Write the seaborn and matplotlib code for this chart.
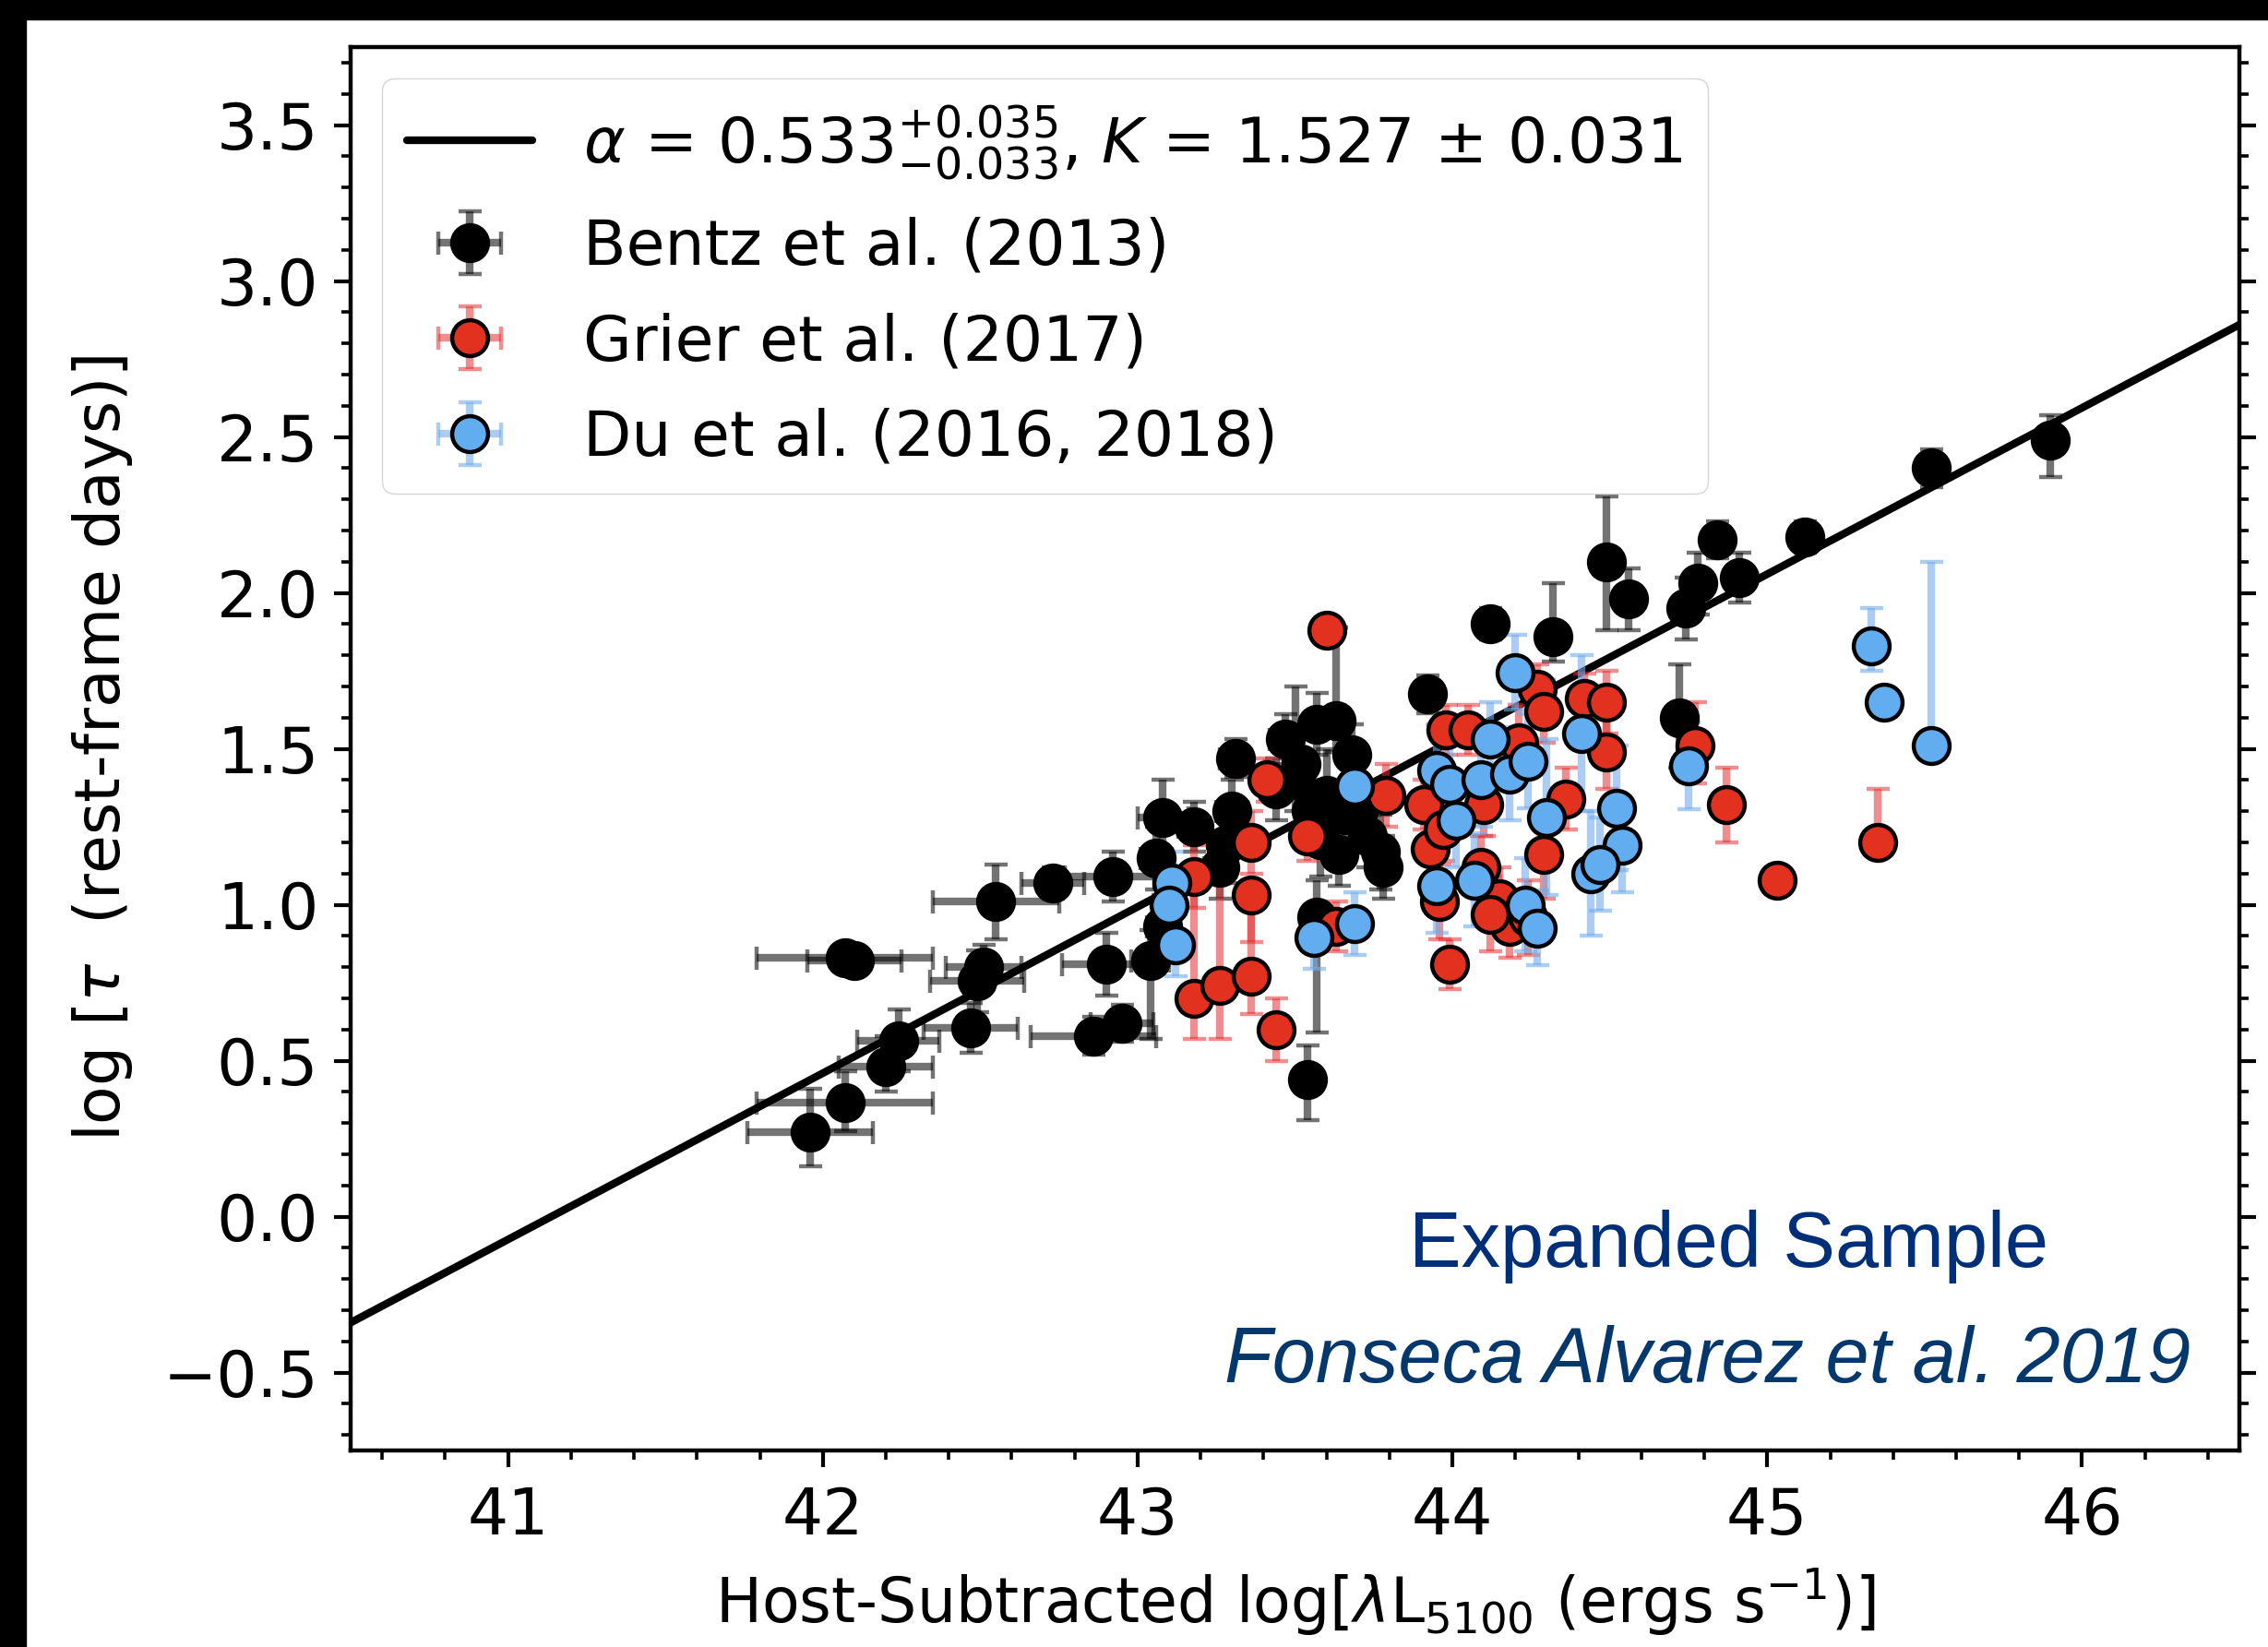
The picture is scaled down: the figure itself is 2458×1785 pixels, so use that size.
import numpy as np
import matplotlib
matplotlib.use("Agg")
import matplotlib.pyplot as plt
from matplotlib.patches import Rectangle
from matplotlib.ticker import MultipleLocator
import seaborn as sns

# fit line (at the axis edges)
fit_x = [40.5, 46.5]
fit_y = [-0.34, 2.86]
fit_label = r"$\alpha$ = 0.533$^{+0.035}_{-0.033}$, $K$ = 1.527 $\pm$ 0.031"

# Bentz et al. (2013)
bentz_x = [41.96, 42.07, 42.20, 42.24, 42.07, 42.10, 42.47, 42.49, 42.51, 42.55,
           42.73, 42.86, 42.95, 42.90, 42.92, 43.04, 43.06, 43.08, 43.18, 43.26,
           43.28, 43.30, 43.31, 43.44, 43.47, 43.50, 43.57, 43.63, 43.58, 43.66,
           43.73, 43.77, 43.78, 43.60, 43.52, 43.68, 43.57, 43.54, 43.92, 44.12,
           44.32, 44.49, 44.56, 44.72, 44.74, 44.78, 44.84, 44.91, 45.12, 45.52,
           45.90, 43.64, 43.70, 43.55, 43.08]
bentz_y = [0.27, 0.365, 0.48, 0.565, 0.83, 0.82, 0.605, 0.755, 0.80, 1.01,
           1.07, 0.58, 0.62, 0.81, 1.09, 0.82, 1.15, 1.28, 1.25, 1.12,
           1.19, 1.30, 1.47, 1.37, 1.53, 1.40, 1.58, 1.59, 1.21, 1.29,
           1.22, 1.17, 1.12, 1.35, 1.45, 1.48, 0.96, 0.44, 1.675, 1.90,
           1.86, 2.10, 1.98, 1.60, 1.95, 2.03, 2.17, 2.05, 2.18, 2.40,
           2.49, 1.16, 1.30, 1.30, 0.93]
bentz_xerr = [0.20, 0.28, 0.15, 0.13, 0.28, 0.15, 0.15, 0.15, 0.12, 0.20,
              0.10, 0.20, 0.10, 0.14, 0.15, 0.06, 0.05, 0.08, 0.05, 0.05,
              0.05, 0.05, 0.05, 0.05, 0.05, 0.04, 0.04, 0.04, 0.04, 0.04,
              0.04, 0.04, 0.04, 0.04, 0.04, 0.04, 0.04, 0.03, 0.04, 0.03,
              0.03, 0.03, 0.03, 0.03, 0.03, 0.03, 0.03, 0.03, 0.03, 0.03,
              0.03, 0.04, 0.04, 0.04, 0.05]
bentz_ylo = [0.11, 0.09, 0.08, 0.10, 0.03, 0.03, 0.08, 0.10, 0.07, 0.12,
             0.05, 0.06, 0.06, 0.10, 0.08, 0.25, 0.10, 0.12, 0.08, 0.10,
             0.12, 0.10, 0.06, 0.10, 0.08, 0.10, 0.10, 0.10, 0.12, 0.10,
             0.10, 0.12, 0.10, 0.15, 0.10, 0.10, 0.37, 0.13, 0.06, 0.05,
             0.08, 0.22, 0.10, 0.16, 0.10, 0.10, 0.06, 0.08, 0.05, 0.06,
             0.12, 0.10, 0.10, 0.10, 0.10]
bentz_yhi = [0.14, 0.10, 0.10, 0.10, 0.03, 0.03, 0.08, 0.10, 0.07, 0.12,
             0.05, 0.06, 0.06, 0.10, 0.08, 0.10, 0.10, 0.12, 0.08, 0.10,
             0.12, 0.10, 0.06, 0.10, 0.08, 0.30, 0.10, 0.30, 0.12, 0.10,
             0.10, 0.12, 0.10, 0.15, 0.10, 0.10, 0.12, 0.11, 0.06, 0.05,
             0.17, 0.21, 0.10, 0.17, 0.10, 0.10, 0.06, 0.08, 0.05, 0.06,
             0.08, 0.10, 0.10, 0.10, 0.10]

# Grier et al. (2017)
grier_x = [43.60, 43.41, 43.36, 43.36, 43.18, 43.18, 43.26, 43.36, 43.44, 43.54,
           43.63, 43.79, 43.91, 43.93, 43.96, 43.99, 43.98, 44.05, 44.10, 44.27,
           44.29, 44.21, 44.42, 44.49, 44.49, 44.36, 44.29, 44.09, 44.15, 44.18,
           44.12, 44.77, 44.87, 45.03, 45.35, 43.97, 44.24]
grier_y = [1.88, 1.40, 1.20, 1.03, 1.09, 0.70, 0.74, 0.77, 0.60, 1.22,
           0.93, 1.35, 1.32, 1.18, 1.01, 0.81, 1.56, 1.56, 1.32, 1.69,
           1.62, 1.52, 1.66, 1.65, 1.49, 1.34, 1.16, 1.12, 1.02, 0.93,
           0.97, 1.51, 1.32, 1.08, 1.20, 1.24, 0.96]
grier_ylo = [0.03, 0.07, 0.10, 0.15, 0.10, 0.13, 0.17, 0.12, 0.10, 0.08,
             0.08, 0.10, 0.08, 0.10, 0.12, 0.08, 0.08, 0.08, 0.10, 0.08,
             0.10, 0.12, 0.08, 0.10, 0.12, 0.10, 0.14, 0.10, 0.10, 0.10,
             0.12, 0.12, 0.12, 0.02, 0.02, 0.10, 0.12]
grier_yhi = [0.03, 0.07, 0.10, 0.05, 0.10, 0.35, 0.33, 0.25, 0.10, 0.08,
             0.08, 0.10, 0.08, 0.10, 0.12, 0.08, 0.08, 0.08, 0.10, 0.08,
             0.10, 0.12, 0.08, 0.10, 0.12, 0.10, 0.14, 0.10, 0.10, 0.10,
             0.12, 0.14, 0.12, 0.02, 0.17, 0.10, 0.12]
grier_xerr = [0.02] * len(grier_x)

# Du et al. (2016, 2018)
du_x = [43.11, 43.10, 43.12, 43.69, 43.56, 43.69, 43.95, 43.99, 44.12, 44.09,
        44.18, 44.24, 44.20, 44.41, 44.01, 44.52, 44.54, 44.44, 44.47, 44.30,
        43.95, 44.07, 44.23, 44.27, 44.75, 45.33, 45.37, 45.52]
du_y = [1.07, 1.00, 0.87, 1.38, 0.895, 0.94, 1.43, 1.385, 1.53, 1.40,
        1.42, 1.46, 1.745, 1.55, 1.27, 1.31, 1.19, 1.10, 1.13, 1.28,
        1.06, 1.08, 1.00, 0.925, 1.445, 1.83, 1.65, 1.51]
du_ylo = [0.10, 0.10, 0.10, 0.12, 0.10, 0.10, 0.15, 0.15, 0.12, 0.15,
          0.15, 0.15, 0.12, 0.25, 0.15, 0.20, 0.15, 0.20, 0.15, 0.25,
          0.15, 0.15, 0.15, 0.12, 0.14, 0.08, 0.02, 0.02]
du_yhi = [0.10, 0.10, 0.10, 0.12, 0.10, 0.10, 0.15, 0.15, 0.12, 0.15,
          0.15, 0.15, 0.12, 0.25, 0.15, 0.20, 0.15, 0.20, 0.15, 0.25,
          0.15, 0.15, 0.15, 0.12, 0.14, 0.12, 0.02, 0.59]
du_xerr = [0.02] * len(du_x)

sns.set_theme(style="ticks")
plt.rcParams["font.family"] = ["DejaVu Sans"]
plt.rcParams["mathtext.fontset"] = "dejavusans"
plt.rcParams.update({
    "text.color": "black",
    "axes.labelcolor": "black",
    "axes.linewidth": 3.2,
    "xtick.major.size": 13, "xtick.minor.size": 7,
    "ytick.major.size": 13, "ytick.minor.size": 7,
    "xtick.major.width": 3.0, "xtick.minor.width": 2.6,
    "ytick.major.width": 3.0, "ytick.minor.width": 2.6,
    "xtick.major.pad": 14, "ytick.major.pad": 12,
})

fig, ax = plt.subplots(figsize=(24.58, 17.85), dpi=100)
fig.subplots_adjust(left=0.1546, right=0.9874, bottom=0.1193, top=0.9714)

sns.lineplot(x=fit_x, y=fit_y, color="black", lw=6, ax=ax, label=fit_label, zorder=1)

common = dict(fmt="o", ms=28, mec="black", mew=3.2, elinewidth=6, capsize=9, capthick=4)
ax.errorbar(bentz_x, bentz_y, xerr=bentz_xerr, yerr=[bentz_ylo, bentz_yhi],
            color="black", mfc="black", ecolor=(0, 0, 0, 0.55),
            label="Bentz et al. (2013)", **common)
ax.errorbar(grier_x, grier_y, xerr=grier_xerr, yerr=[grier_ylo, grier_yhi],
            color="#e3311f", mfc="#e3311f", ecolor=(0.89, 0.19, 0.2, 0.55),
            label="Grier et al. (2017)", **common)
ax.errorbar(du_x, du_y, xerr=du_xerr, yerr=[du_ylo, du_yhi],
            color="#62acf0", mfc="#62acf0", ecolor=(0.45, 0.68, 0.92, 0.6),
            label="Du et al. (2016, 2018)", **common)

ax.set_xlim(40.5, 46.5)
ax.set_ylim(-0.75, 3.75)
ax.xaxis.set_major_locator(MultipleLocator(1))
ax.xaxis.set_minor_locator(MultipleLocator(0.2))
ax.yaxis.set_major_locator(MultipleLocator(0.5))
ax.yaxis.set_minor_locator(MultipleLocator(0.1))
ax.tick_params(which="both", direction="out", top=False, right=True,
               labelsize=50, colors="black")
for s in ax.spines.values():
    s.set_color("black")

ax.set_xlabel(r"Host-Subtracted log[$\lambda$L$_{5100}$ (ergs s$^{-1}$)]", fontsize=48, labelpad=14)
ax.set_ylabel(r"log [$\tau$  (rest-frame days)]", fontsize=49, labelpad=22)

leg = ax.legend(loc="upper left", fontsize=49, framealpha=0.8, edgecolor="0.8",
                labelspacing=0.55)
for t in leg.get_texts():
    t.set_color("black")

fig.text(0.7624, 0.2308, "Expanded Sample", ha="center", va="baseline",
         fontsize=61, color="#002f7a", family="Liberation Sans")
fig.text(0.753, 0.1608, "Fonseca Alvarez et al. 2019", ha="center", va="baseline",
         fontsize=61, color="#04386c", family="Liberation Sans", style="italic")

# black frame strips of the original screenshot
fig.patches.append(Rectangle((0, 0), 28 / 2458, 1, transform=fig.transFigure,
                             color="black", zorder=10))
fig.patches.append(Rectangle((0, 1 - 21 / 1785), 1, 21 / 1785, transform=fig.transFigure,
                             color="black", zorder=10))

fig.savefig("out.png", dpi=100)
